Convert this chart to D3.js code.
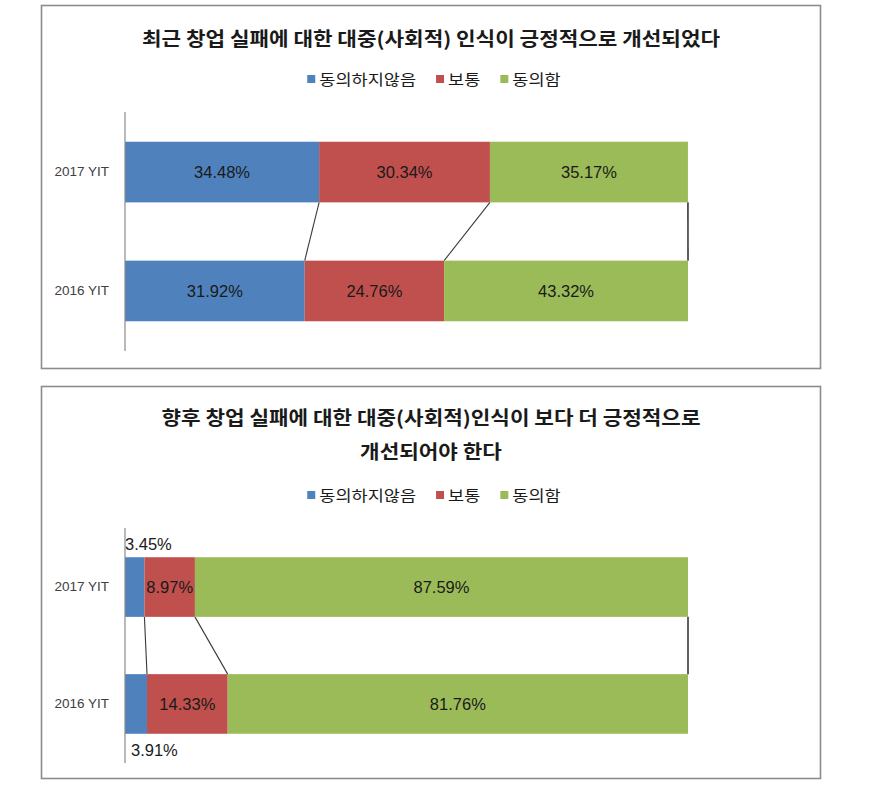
<!DOCTYPE html>
<html><head><meta charset="utf-8">
<script src="https://cdn.jsdelivr.net/npm/d3@7"></script>
<style>
body{margin:0;background:#fff;}
svg{display:block;}
</style></head>
<body>
<svg id="c" width="869" height="800"></svg>
<script>
// ---- data ----
const categories = ["2017 YIT", "2016 YIT"];
const seriesNames = ["동의하지않음", "보통", "동의함"];
const seriesColors = ["#4F81BD", "#C0504D", "#9BBB59"];

const chart1Title = ["최근 창업 실패에 대한 대중(사회적) 인식이 긍정적으로 개선되었다"];
const chart1Disagree = [34.48, 31.92];
const chart1Neutral = [30.34, 24.76];
const chart1Agree = [35.17, 43.32];

const chart2Title = ["향후 창업 실패에 대한 대중(사회적)인식이 보다 더 긍정적으로", "개선되어야 한다"];
const chart2Disagree = [3.45, 3.91];
const chart2Neutral = [8.97, 14.33];
const chart2Agree = [87.59, 81.76];

const xTicks = [0, 100];

// ---- drawing ----
const svg = d3.select("#c");
const KFONT = "'Noto Sans CJK KR','Noto Sans',sans-serif";
const NFONT = "'Liberation Sans',Arial,sans-serif";
const KSTRETCH = 1.12;   // horizontal widening of Korean text (reference font is wider)

function drawChart(cfg) {
  const g = svg.append("g");
  // outer box
  g.append("rect").attr("x", cfg.box[0]).attr("y", cfg.box[1])
    .attr("width", cfg.box[2]).attr("height", cfg.box[3])
    .attr("fill", "#fff").attr("stroke", "#8c8c8c").attr("stroke-width", 1.6);
  const cx = cfg.box[0] + cfg.box[2] / 2;

  // title
  cfg.title.forEach((t, i) => {
    g.append("g").attr("transform", `translate(${cx},${cfg.titleY + i * cfg.titleLH}) scale(${KSTRETCH},1)`)
      .append("text").attr("x", 0).attr("y", 0)
      .attr("text-anchor", "middle").attr("dominant-baseline", "central")
      .attr("font-family", KFONT).attr("font-weight", "bold")
      .attr("font-size", 19).attr("fill", "#1a1a1a").text(t);
  });

  // legend
  const leg = g.append("g");
  let lx = 0;
  const LS = 1.17;
  seriesNames.forEach((n, i) => {
    leg.append("rect").attr("x", lx).attr("y", -4).attr("width", 8).attr("height", 8)
      .attr("fill", seriesColors[i]);
    const tg = leg.append("g").attr("transform", `translate(${lx + 12},0) scale(${LS},1)`);
    const t = tg.append("text").attr("x", 0).attr("y", 0)
      .attr("dominant-baseline", "central").attr("font-family", KFONT)
      .attr("font-size", 15).attr("fill", "#1a1a1a").text(n);
    lx += 12 + t.node().getComputedTextLength() * LS + 20;
  });
  lx -= 20;
  leg.attr("transform", `translate(${cx - lx / 2 + 3},${cfg.legendY})`);

  // scales
  const x = d3.scaleLinear().domain(d3.extent(xTicks)).range(cfg.xRange);
  const y = d3.scaleBand().domain(categories).range(cfg.yRange)
    .paddingInner(0.49).paddingOuter(0.25);

  // stacks
  const rows = categories.map((c, i) => {
    const vals = [cfg.disagree[i], cfg.neutral[i], cfg.agree[i]];
    let acc = 0;
    return vals.map((v, k) => { const s = acc; acc += v; return {cat: c, k, v, s, e: acc, row: i}; });
  });

  // connector lines
  for (let k = 0; k < 3; k++) {
    const a = rows[0][k], b = rows[1][k];
    g.append("line")
      .attr("x1", x(Math.min(a.e, 100))).attr("y1", y(categories[0]) + y.bandwidth())
      .attr("x2", x(Math.min(b.e, 100))).attr("y2", y(categories[1]))
      .attr("stroke", "#3a3a3a").attr("stroke-width", k === 2 ? 1.6 : 1.1);
  }

  // bars
  rows.forEach(r => r.forEach(d => {
    g.append("rect").attr("x", x(d.s)).attr("y", y(d.cat))
      .attr("width", x(Math.min(d.e, 100)) - x(d.s)).attr("height", y.bandwidth())
      .attr("fill", seriesColors[d.k]);
  }));

  // axis line
  const ax = d3.axisLeft(y).tickSize(0).tickPadding(16);
  const axg = g.append("g").attr("transform", `translate(${x(0)},0)`).call(ax);
  axg.select(".domain").remove();
  axg.selectAll("text").attr("font-family", NFONT).attr("font-size", 13.5).attr("fill", "#404040");
  g.append("line").attr("x1", x(0)).attr("x2", x(0))
    .attr("y1", cfg.yRange[0]).attr("y2", cfg.yRange[1])
    .attr("stroke", "#8a8a8a").attr("stroke-width", 1.2);

  // data labels
  rows.forEach(r => r.forEach(d => {
    const small = d.v < 5;
    let tx, ty, anchor;
    if (small) {
      anchor = "start";
      tx = x(d.s) + (d.row === 0 ? 0 : 6);
      ty = d.row === 0 ? y(d.cat) - 13 : y(d.cat) + y.bandwidth() + 16;
    } else {
      anchor = "middle";
      tx = (x(d.s) + x(Math.min(d.e, 100))) / 2;
      ty = y(d.cat) + y.bandwidth() / 2;
    }
    g.append("text").attr("x", tx).attr("y", ty).attr("text-anchor", anchor)
      .attr("dominant-baseline", "central").attr("font-family", NFONT)
      .attr("font-size", 16.5).attr("fill", "#1a1a1a").text(d.v.toFixed(2) + "%");
  }));
}

drawChart({
  box: [41.5, 5.5, 779, 363], title: chart1Title, titleY: 38, titleLH: 34, legendY: 79,
  xRange: [125, 688], yRange: [112, 351],
  disagree: chart1Disagree, neutral: chart1Neutral, agree: chart1Agree
});
drawChart({
  box: [41.5, 386.5, 779, 392], title: chart2Title, titleY: 417, titleLH: 34, legendY: 495,
  xRange: [125, 688], yRange: [528, 763],
  disagree: chart2Disagree, neutral: chart2Neutral, agree: chart2Agree
});
</script>
</body></html>
